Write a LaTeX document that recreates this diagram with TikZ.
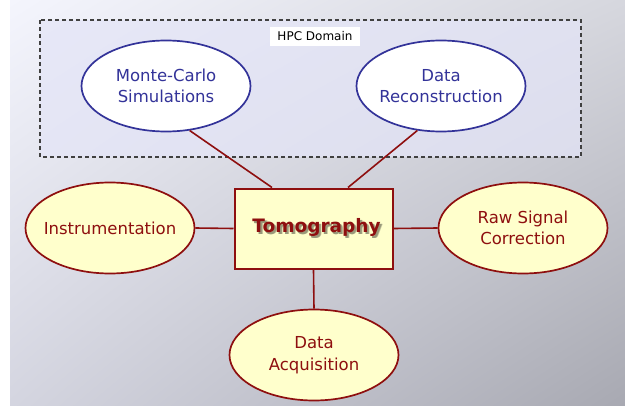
\documentclass[tikz,border=0pt]{standalone}
\usepackage{fontspec}
\setmainfont{DejaVu Sans}
\usetikzlibrary{shapes.geometric,shadings}

\definecolor{hpcblue}{HTML}{333399}
\definecolor{tomored}{HTML}{8E0F0F}
\definecolor{paleyellow}{HTML}{FFFFCC}
\definecolor{hpcfill}{HTML}{E4E5F7}
\definecolor{bgUL}{RGB}{244,245,253}
\definecolor{bgUR}{RGB}{214,215,222}
\definecolor{bgLL}{RGB}{212,213,224}
\definecolor{bgLR}{RGB}{168,169,178}
\colorlet{shadeA}{black!22!paleyellow}
\colorlet{shadeB}{black!40!paleyellow}

% bold title with a soft drop shadow underneath
\newcommand{\shadowedtitle}[1]{%
  \rlap{\kern2.6pt\raisebox{-2.8pt}{\color{shadeA}#1}}%
  \rlap{\kern1.8pt\raisebox{-2.0pt}{\color{shadeB}#1}}%
  #1}

\tikzset{
  bubble/.style={ellipse, line width=1.7pt,
    minimum width=169pt, minimum height=91pt, inner xsep=-15pt, inner ysep=0pt,
    align=center, font=\fontsize{16.5}{21.5}\selectfont},
  bluebubble/.style={bubble, draw=hpcblue, fill=white, text=hpcblue},
  redbubble/.style={bubble, draw=tomored, fill=paleyellow, text=tomored},
  corebox/.style={rectangle, draw=tomored, line width=2pt, fill=paleyellow,
    minimum width=158pt, minimum height=80pt, inner sep=0pt},
  link/.style={draw=tomored, line width=1.6pt},
  domainbox/.style={draw=black!75, dash pattern=on 4pt off 3pt, line width=1.1pt,
    fill=hpcfill, fill opacity=0.75},
  tag/.style={fill=white, inner sep=0pt, minimum width=90pt, minimum height=19pt,
    font=\fontsize{12}{14}\selectfont},
  titletext/.style={font=\fontsize{18.5}{22}\bfseries\selectfont, text=tomored}
}

\begin{document}
\begin{tikzpicture}[x=1pt, y=-1pt]
  \useasboundingbox (0,0) rectangle (625,407);
  % backdrop
  \shade[upper left=bgUL, upper right=bgUR, lower left=bgLL, lower right=bgLR]
    (10,0) rectangle (625,405);

  % HPC domain frame
  \path[domainbox] (40,20) rectangle (581,157);
  \node[tag] (hpc) at (315,36) {HPC Domain};

  % nodes
  \node[bluebubble] (mc) at (166,86) {Monte-Carlo\\Simulations};
  \node[bluebubble] (rec) at (441,86) {Data\\Reconstruction};
  \node[corebox] (tomo) at (313.5,228.5) {};
  \node[redbubble] (instr) at (110,228) {Instrumentation};
  \node[redbubble] (raw) at (523,228) {Raw Signal\\Correction};
  \node[redbubble] (acq) at (314,355) {Data\\Acquisition};

  % title of the central box
  \node[titletext] (tomotext) at ([shift={(3,0)}]tomo.center) {\shadowedtitle{Tomography}};

  % connectors
  \draw[link] (mc.-62) -- (tomo.north -| 272,0);
  \draw[link] (rec.-118) -- (tomo.north -| 348,0);
  \draw[link] (instr.east) -- (tomo.west);
  \draw[link] (raw.west) -- (tomo.east);
  \draw[link] (acq.north) -- (tomo.south);
\end{tikzpicture}
\end{document}
